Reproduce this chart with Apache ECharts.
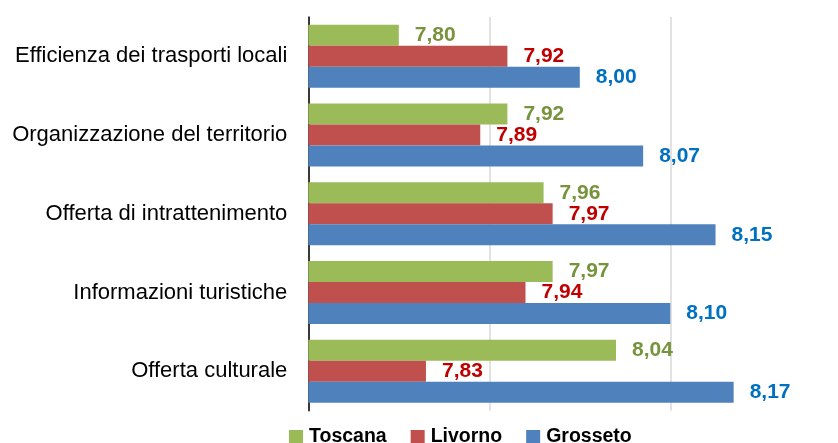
<!DOCTYPE html>
<html style="height: 100%">
<head>
  <meta charset="utf-8">
  <title>Valutazioni Toscana Livorno Grosseto</title>
  <script src="https://cdn.jsdelivr.net/npm/echarts@6/dist/echarts.min.js"></script>
</head>
<body style="margin: 0; height: 100%">
  <div id="main" style="width: 838px; height: 443px"></div>

  <script>
    // categorie dall'alto verso il basso
    const categorie = [
      'Efficienza dei trasporti locali',
      'Organizzazione del territorio',
      'Offerta di intrattenimento',
      'Informazioni turistiche',
      'Offerta culturale'
    ];
    const toscana = [7.80, 7.92, 7.96, 7.97, 8.04];
    const livorno = [7.92, 7.89, 7.97, 7.94, 7.83];
    const grosseto = [8.00, 8.07, 8.15, 8.10, 8.17];

    const chart = echarts.init(document.getElementById('main'));
    const font = '"Liberation Sans", Arial, sans-serif';

    function serie(nome, dati, colore, coloreTesto) {
      return {
        name: nome,
        type: 'bar',
        data: dati,
        barGap: '0%',
        barCategoryGap: '20%',
        itemStyle: { color: colore },
        label: {
          show: true,
          position: 'right',
          distance: 16,
          fontFamily: font,
          fontWeight: 'bold',
          fontSize: 21,
          color: coloreTesto,
          formatter: p => p.value.toFixed(2).replace('.', ',')
        }
      };
    }

    chart.setOption({
      animation: false,
      // l'asse arriva a 8,3 oltre il bordo destro, come nell'originale
      grid: { left: 308.3, top: 17, width: 543, height: 393.7, outerBoundsMode: 'none', containLabel: false },
      legend: {
        left: 289,
        top: 427,
        padding: 0,
        itemWidth: 14,
        itemHeight: 14,
        itemGap: 24,
        icon: 'rect',
        textStyle: { fontFamily: font, fontWeight: 'bold', fontSize: 19.5, color: '#000', padding: [0, 0, 0, 1] },
        data: ['Toscana', 'Livorno', 'Grosseto']
      },
      xAxis: {
        type: 'value',
        min: 7.7,
        max: 8.3,
        interval: 0.2,
        axisLine: { show: false },
        axisTick: { show: false },
        axisLabel: { show: false },
        splitLine: { show: true, lineStyle: { color: '#d9d9d9', width: 1.5 } }
      },
      yAxis: {
        type: 'category',
        inverse: true,
        data: categorie,
        axisLine: { show: true, lineStyle: { color: '#000', width: 1.5 } },
        axisTick: { show: false },
        axisLabel: { margin: 21, fontFamily: font, fontSize: 22, color: '#000' }
      },
      series: [
        serie('Toscana', toscana, '#9bbb59', '#77933c'),
        serie('Livorno', livorno, '#c0504d', '#c00000'),
        serie('Grosseto', grosseto, '#4f81bd', '#0070c0')
      ]
    });
  </script>
</body>
</html>
